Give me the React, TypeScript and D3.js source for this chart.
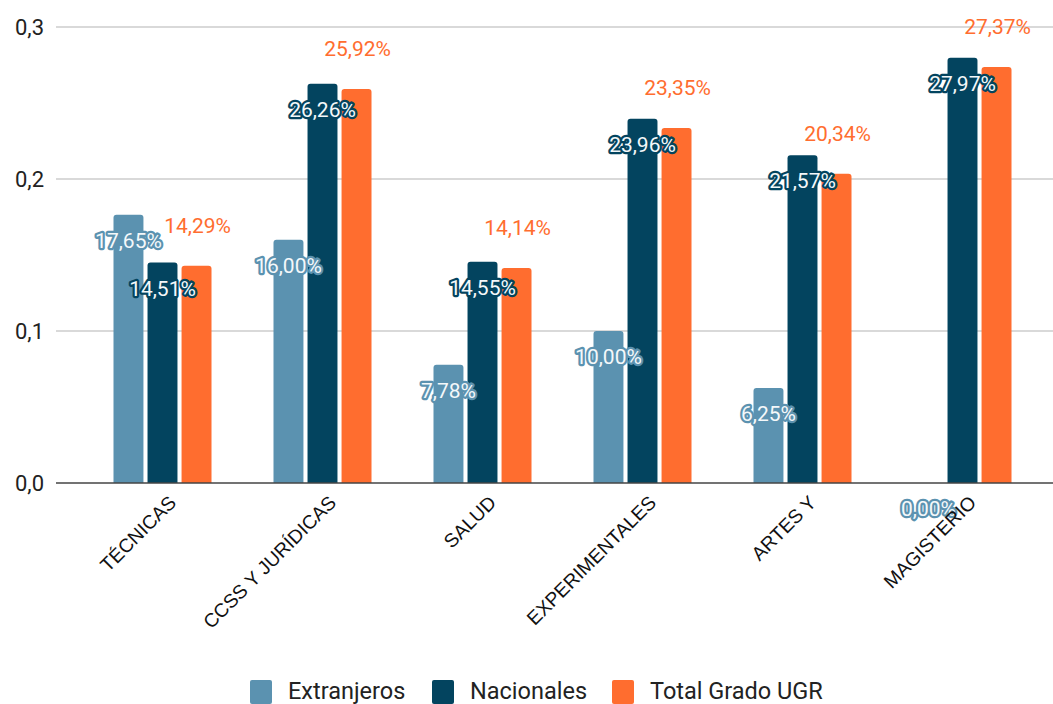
import React from "react";
import * as d3 from "d3";

const categories = ["TÉCNICAS", "CCSS Y JURÍDICAS", "SALUD", "EXPERIMENTALES", "ARTES Y", "MAGISTERIO"];
const seriesNames = ["Extranjeros", "Nacionales", "Total Grado UGR"];
const extranjeros = [0.1765, 0.16, 0.0778, 0.1, 0.0625, 0.0];
const nacionales = [0.1451, 0.2626, 0.1455, 0.2396, 0.2157, 0.2797];
const totalUGR = [0.1429, 0.2592, 0.1414, 0.2335, 0.2034, 0.2737];
const yTicks = [0, 0.1, 0.2, 0.3];

const colors = ["#5b92b0", "#03445f", "#ff6d2f"];
const W = 1053;
const H = 704;

function topRoundedRect(x: number, y: number, w: number, h: number, r: number) {
  if (h <= 0) return "";
  const rr = Math.min(r, h, w / 2);
  return `M${x},${y + h}V${y + rr}Q${x},${y} ${x + rr},${y}H${x + w - rr}Q${x + w},${y} ${x + w},${y + rr}V${y + h}Z`;
}

const fmt = (v: number) => (v * 100).toFixed(2).replace(".", ",") + "%";

export default function App() {
  const seriesValues = [extranjeros, nacionales, totalUGR];
  const x = d3.scaleBand<string>().domain(categories).range([82.5, 1042.5]).padding(0);
  const xi = d3.scaleBand<string>().domain(seriesNames).range([0, 98]).paddingInner(0.12);
  const y = d3.scaleLinear().domain([0, 0.3]).range([483, 27]);
  const left = 56;
  const right = W;

  const labelFont = "Roboto, 'Noto Sans', sans-serif";

  return (
    <svg width={W} height={H} style={{ position: "absolute", left: 0, top: 0, background: "#fff" }}>
      {yTicks.map((t) => (
        <g key={t}>
          {t > 0 && <line x1={left} x2={right} y1={y(t)} y2={y(t)} stroke="#cccccc" strokeWidth={1.5} />}
          <text x={44} y={y(t)} dy="0.35em" textAnchor="end" fontFamily={labelFont} fontSize={22} fill="#222">
            {t.toFixed(1).replace(".", ",")}
          </text>
        </g>
      ))}
      {categories.map((c, i) => {
        const g0 = (x(c) as number) + x.bandwidth() / 2 - 49;
        return (
          <g key={c}>
            {seriesNames.map((s, k) => {
              const v = seriesValues[k][i];
              const bx = g0 + (xi(s) as number);
              const bw = xi.bandwidth();
              return (
                <path key={s} d={topRoundedRect(bx, y(v), bw, y(0) - y(v), 3)} fill={colors[k]} />
              );
            })}
          </g>
        );
      })}
      <line x1={left} x2={right} y1={y(0)} y2={y(0)} stroke="#444" strokeWidth={1.5} />
      {categories.map((c, i) => {
        const g0 = (x(c) as number) + x.bandwidth() / 2 - 49;
        return (
          <g key={c + "-labels"}>
            {seriesNames.map((s, k) => {
              const v = seriesValues[k][i];
              const cx = g0 + (xi(s) as number) + xi.bandwidth() / 2;
              if (k === 2) {
                return (
                  <text key={s} x={cx + 1} y={y(v) - 40} dy="0.35em" textAnchor="middle" fontFamily={labelFont} fontSize={21} fill={colors[2]}>
                    {fmt(v)}
                  </text>
                );
              }
              return (
                <text
                  key={s}
                  x={cx}
                  y={y(v) + 26}
                  dy="0.35em"
                  textAnchor="middle"
                  fontFamily={labelFont}
                  fontSize={21}
                  fill="#f4f8fa"
                  stroke={colors[k]}
                  strokeWidth={4.5}
                  strokeLinejoin="round"
                  paintOrder="stroke"
                >
                  {fmt(v)}
                </text>
              );
            })}
          </g>
        );
      })}
      {categories.map((c) => {
        const cx = (x(c) as number) + x.bandwidth() / 2;
        return (
          <text
            key={c + "-tick"}
            transform={`translate(${cx + 10},${499}) rotate(-45)`}
            textAnchor="end"
            dy="0.35em"
            fontFamily="'Liberation Sans', Arial, sans-serif"
            fontSize={19.3}
            fill="#111"
          >
            {c}
          </text>
        );
      })}
      {seriesNames.map((s, k) => {
        const lx = [250, 432, 612][k];
        return (
          <g key={s + "-legend"}>
            <rect x={lx} y={680} width={22} height={24} rx={2} fill={colors[k]} />
            <text x={lx + 38} y={691} dy="0.35em" fontFamily={labelFont} fontSize={23.5} fill="#222">
              {s}
            </text>
          </g>
        );
      })}
    </svg>
  );
}
